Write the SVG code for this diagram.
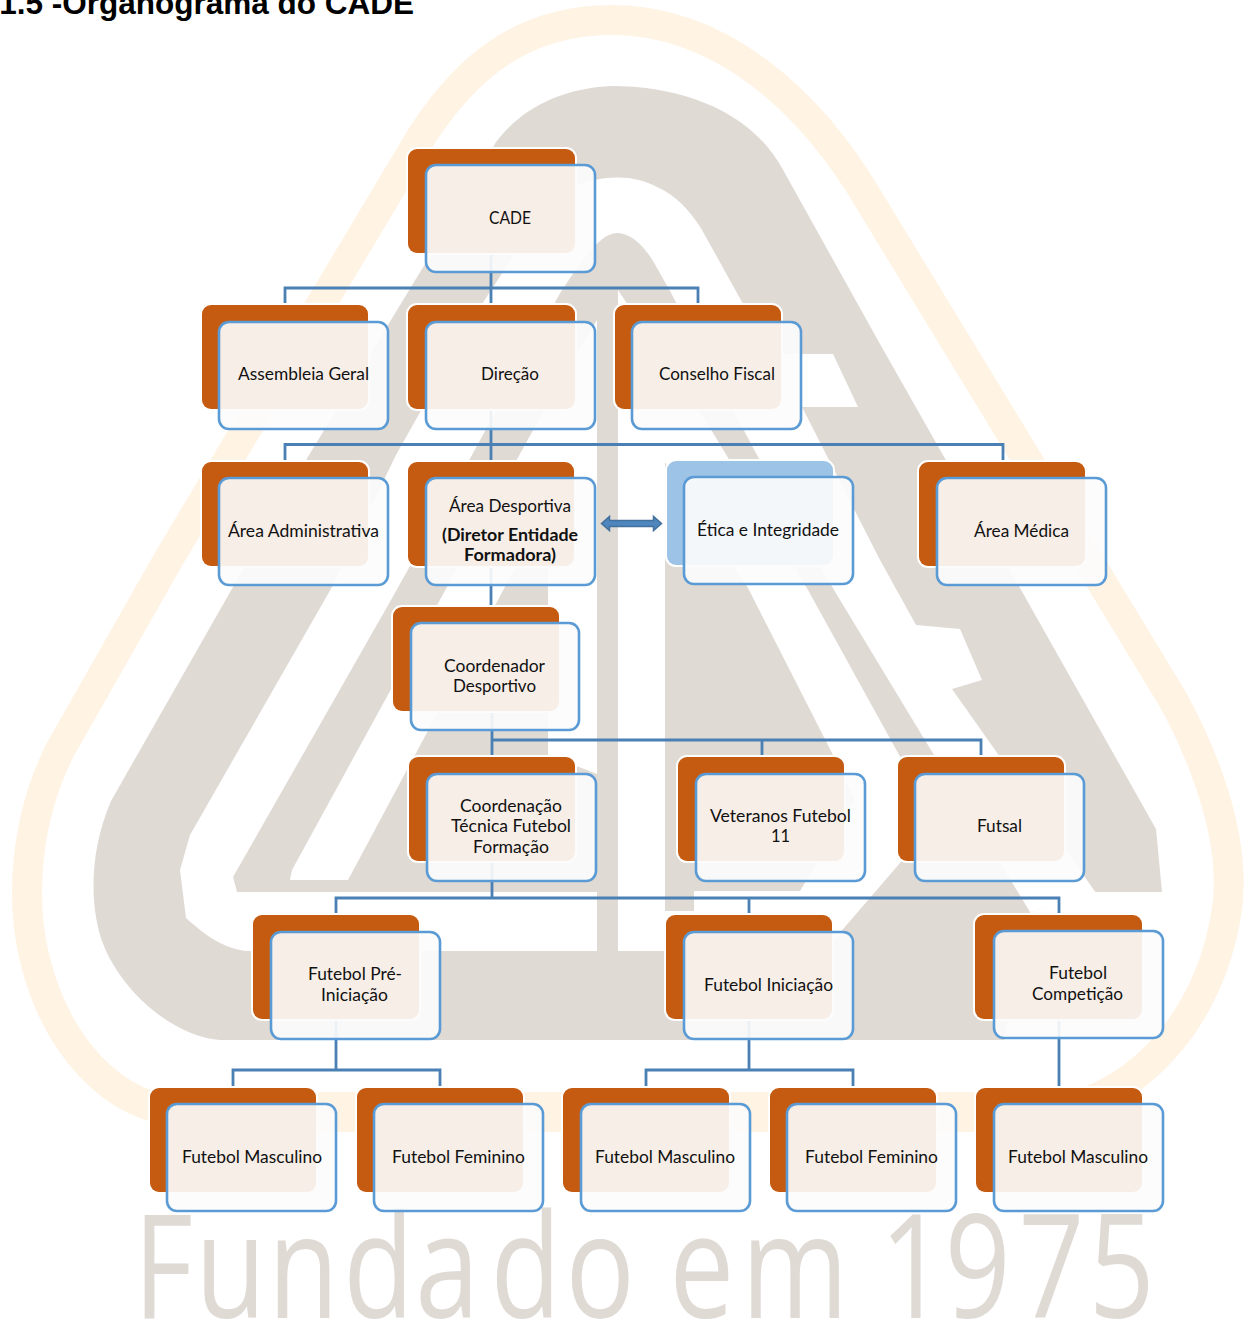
<svg xmlns="http://www.w3.org/2000/svg" width="1246" height="1321" viewBox="0 0 1246 1321">
<style>
text{font-family:"Lato","Liberation Sans",sans-serif;font-size:16.5px;fill:#111}
.h{font-family:"Liberation Sans",Arial,sans-serif;font-weight:700;font-size:31.5px;fill:#000}
.b{font-weight:700}
.wm{font-family:"Open Sans","Liberation Sans",sans-serif;font-weight:400;font-size:144px;fill:#e0dad5}
.gray{fill:#e0dad5}.wh{fill:#fff}
.back{fill:#c55a11;stroke:#fff;stroke-width:4;paint-order:stroke}
.backb{fill:#9dc3e6;stroke:#fff;stroke-width:4;paint-order:stroke}
.front{fill:#fcfcfc;fill-opacity:.915;stroke:#5b9bd5;stroke-width:2.6}
.c{fill:none;stroke:#4a80b4;stroke-width:2.8}
</style>
<rect width="1246" height="1321" fill="#fff"/>
<g id="watermark">
<path d="M612 20C520 20 465 70 423 134L168 560L60 750C25 820 20 900 35 960C55 1040 110 1112 190 1112L1030 1112C1130 1112 1215 1020 1228 900C1235 820 1190 730 1172 698L1000 415L869 200C810 100 720 20 612 20Z" fill="none" stroke="#fff3e4" stroke-width="30"/>
<rect x="170" y="1092" width="890" height="40" fill="#fff3e4"/>
<path class="gray" d="M612 86C560 88 520 110 496 142L425 264L309 455L233 587L111 801C90 850 90 900 100 935C115 985 170 1037 221 1040L1004 1040L1030 912L1096 892L1162 892L1156 829L1020 588L943 455L880 344L782 168C750 110 680 86 612 86Z"/>
<path class="wh" d="M180 870L190 835L332 587L396 455L473 318L530 230C550 200 570 185 595 180C620 175 640 178 657 187C675 195 690 210 702 230L742 302L770 354L833 354L858 407L802 407L880 560L916 625L960 629L982 680L952 689L1096 893L1030 912L920 732L834 590L757 455L670 291L657 268C645 245 630 233 617 233C600 233 580 262 559 295L472 455L391 600L233 877L237 892L597 892L597 951L249 951C225 950 205 935 186 918Z"/>
<path class="wh" d="M597 320L532 432L447 587L292 870L290 880L348 880L498 600L548 505L548 755L597 774Z"/>
<path class="wh" d="M618 290L710 428L808 590L898 753L930 810L900 863L844 928L825 951L618 951Z"/>
<path class="gray" d="M665 462L748 588L832 753L855 800L800 891L694 891L694 911L665 911Z"/>
<text class="wm" transform="translate(0 1318) scale(.8 1)" y="0" x="167 244 335 429 519 613 707 800 837 927 1050 1100 1181 1273 1361">Fundado em 1975</text>
</g>
<text class="h" x="414" y="14" text-anchor="end">1.5 -Organograma do CADE</text>
<g id="connectors">
<path class="c" d="M491 253V305M285 305V288H698V305"/>
<path class="c" d="M491 410V462M285 462V444.500H1003V462"/>
<path class="c" d="M491 566V607"/>
<path class="c" d="M492 712V757M492 740H981V757M762 740V757"/>
<path class="c" d="M492 862V898M336 915V898H1059V915M749 898V915"/>
<path class="c" d="M336 1020V1070M233 1086V1070H440V1086"/>
<path class="c" d="M749 1020V1070M646 1086V1070H853V1086"/>
<path class="c" d="M1059 1019V1086"/>
<path fill="#4f86bd" stroke="#41719c" stroke-width="1.500" d="M601.500 523.500L609.500 516.500V520.500H653.500V516.500L661.500 523.500L653.500 530.500V526.500H609.500V530.500Z"/>
</g>
<g id="n-cade"><rect class="back" x="408" y="149" width="167" height="104" rx="9"/><rect class="front" x="426" y="165" width="169" height="107" rx="10"/><text x="489" y="224" textLength="42" lengthAdjust="spacingAndGlyphs">CADE</text></g>
<g id="n-assembleia"><rect class="back" x="202" y="305" width="166" height="104" rx="9"/><rect class="front" x="219" y="322" width="169" height="107" rx="10"/><text x="238" y="380" textLength="131" lengthAdjust="spacingAndGlyphs">Assembleia Geral</text></g>
<g id="n-direcao"><rect class="back" x="408" y="305" width="167" height="104" rx="9"/><rect class="front" x="426" y="322" width="169" height="107" rx="10"/><text x="481" y="380" textLength="58" lengthAdjust="spacingAndGlyphs">Direção</text></g>
<g id="n-conselho"><rect class="back" x="615" y="305" width="166" height="104" rx="9"/><rect class="front" x="632" y="322" width="169" height="107" rx="10"/><text x="659" y="380" textLength="116" lengthAdjust="spacingAndGlyphs">Conselho Fiscal</text></g>
<g id="n-administrativa"><rect class="back" x="202" y="462" width="166" height="104" rx="9"/><rect class="front" x="219" y="478" width="169" height="107" rx="10"/><text x="228" y="537" textLength="151" lengthAdjust="spacingAndGlyphs">Área Administrativa</text></g>
<g id="n-desportiva"><rect class="back" x="408" y="462" width="166" height="104" rx="9"/><rect class="front" x="426" y="478" width="169" height="107" rx="10"/><text x="449" y="512" textLength="122" lengthAdjust="spacingAndGlyphs">Área Desportiva</text><text class="b" x="442" y="541" textLength="136" lengthAdjust="spacingAndGlyphs">(Diretor Entidade</text><text class="b" x="464" y="561" textLength="92" lengthAdjust="spacingAndGlyphs">Formadora)</text></g>
<g id="n-etica"><rect class="backb" x="667" y="461" width="166" height="104" rx="9"/><rect class="front" x="684" y="477" width="169" height="107" rx="10"/><text x="697" y="536" textLength="142" lengthAdjust="spacingAndGlyphs">Ética e Integridade</text></g>
<g id="n-medica"><rect class="back" x="919" y="462" width="166" height="104" rx="9"/><rect class="front" x="937" y="478" width="169" height="107" rx="10"/><text x="974" y="537" textLength="95" lengthAdjust="spacingAndGlyphs">Área Médica</text></g>
<g id="n-coordenador"><rect class="back" x="393" y="607" width="166" height="104" rx="9"/><rect class="front" x="411" y="623" width="168" height="107" rx="10"/><text x="444" y="672" textLength="101" lengthAdjust="spacingAndGlyphs">Coordenador</text><text x="453" y="692" textLength="83" lengthAdjust="spacingAndGlyphs">Desportivo</text></g>
<g id="n-coordenacao"><rect class="back" x="409" y="757" width="166" height="104" rx="9"/><rect class="front" x="427" y="774" width="169" height="107" rx="10"/><text x="460" y="812" textLength="102" lengthAdjust="spacingAndGlyphs">Coordenação</text><text x="451" y="832" textLength="120" lengthAdjust="spacingAndGlyphs">Técnica Futebol</text><text x="473" y="853" textLength="76" lengthAdjust="spacingAndGlyphs">Formação</text></g>
<g id="n-veteranos"><rect class="back" x="678" y="757" width="166" height="104" rx="9"/><rect class="front" x="696" y="774" width="169" height="107" rx="10"/><text x="710" y="822" textLength="141" lengthAdjust="spacingAndGlyphs">Veteranos Futebol</text><text x="771" y="842" textLength="19" lengthAdjust="spacingAndGlyphs">11</text></g>
<g id="n-futsal"><rect class="back" x="898" y="757" width="166" height="104" rx="9"/><rect class="front" x="915" y="774" width="169" height="107" rx="10"/><text x="977" y="832" textLength="45" lengthAdjust="spacingAndGlyphs">Futsal</text></g>
<g id="n-pre"><rect class="back" x="253" y="915" width="166" height="104" rx="9"/><rect class="front" x="271" y="932" width="169" height="107" rx="10"/><text x="308" y="980" textLength="94" lengthAdjust="spacingAndGlyphs">Futebol Pré-</text><text x="321" y="1001" textLength="67" lengthAdjust="spacingAndGlyphs">Iniciação</text></g>
<g id="n-iniciacao"><rect class="back" x="666" y="915" width="166" height="104" rx="9"/><rect class="front" x="684" y="932" width="169" height="107" rx="10"/><text x="704" y="991" textLength="129" lengthAdjust="spacingAndGlyphs">Futebol Iniciação</text></g>
<g id="n-competicao"><rect class="back" x="975" y="915" width="167" height="104" rx="9"/><rect class="front" x="994" y="931" width="169" height="107" rx="10"/><text x="1049" y="979" textLength="58" lengthAdjust="spacingAndGlyphs">Futebol</text><text x="1032" y="1000" textLength="91" lengthAdjust="spacingAndGlyphs">Competição</text></g>
<g id="n-masc1"><rect class="back" x="150" y="1088" width="166" height="104" rx="9"/><rect class="front" x="167" y="1104" width="169" height="107" rx="10"/><text x="182" y="1163" textLength="140" lengthAdjust="spacingAndGlyphs">Futebol Masculino</text></g>
<g id="n-fem1"><rect class="back" x="357" y="1088" width="166" height="104" rx="9"/><rect class="front" x="374" y="1104" width="169" height="107" rx="10"/><text x="392" y="1163" textLength="133" lengthAdjust="spacingAndGlyphs">Futebol Feminino</text></g>
<g id="n-masc2"><rect class="back" x="563" y="1088" width="166" height="104" rx="9"/><rect class="front" x="581" y="1104" width="169" height="107" rx="10"/><text x="595" y="1163" textLength="140" lengthAdjust="spacingAndGlyphs">Futebol Masculino</text></g>
<g id="n-fem2"><rect class="back" x="770" y="1088" width="166" height="104" rx="9"/><rect class="front" x="787" y="1104" width="169" height="107" rx="10"/><text x="805" y="1163" textLength="133" lengthAdjust="spacingAndGlyphs">Futebol Feminino</text></g>
<g id="n-masc3"><rect class="back" x="976" y="1088" width="166" height="104" rx="9"/><rect class="front" x="994" y="1104" width="169" height="107" rx="10"/><text x="1008" y="1163" textLength="140" lengthAdjust="spacingAndGlyphs">Futebol Masculino</text></g>
</svg>
